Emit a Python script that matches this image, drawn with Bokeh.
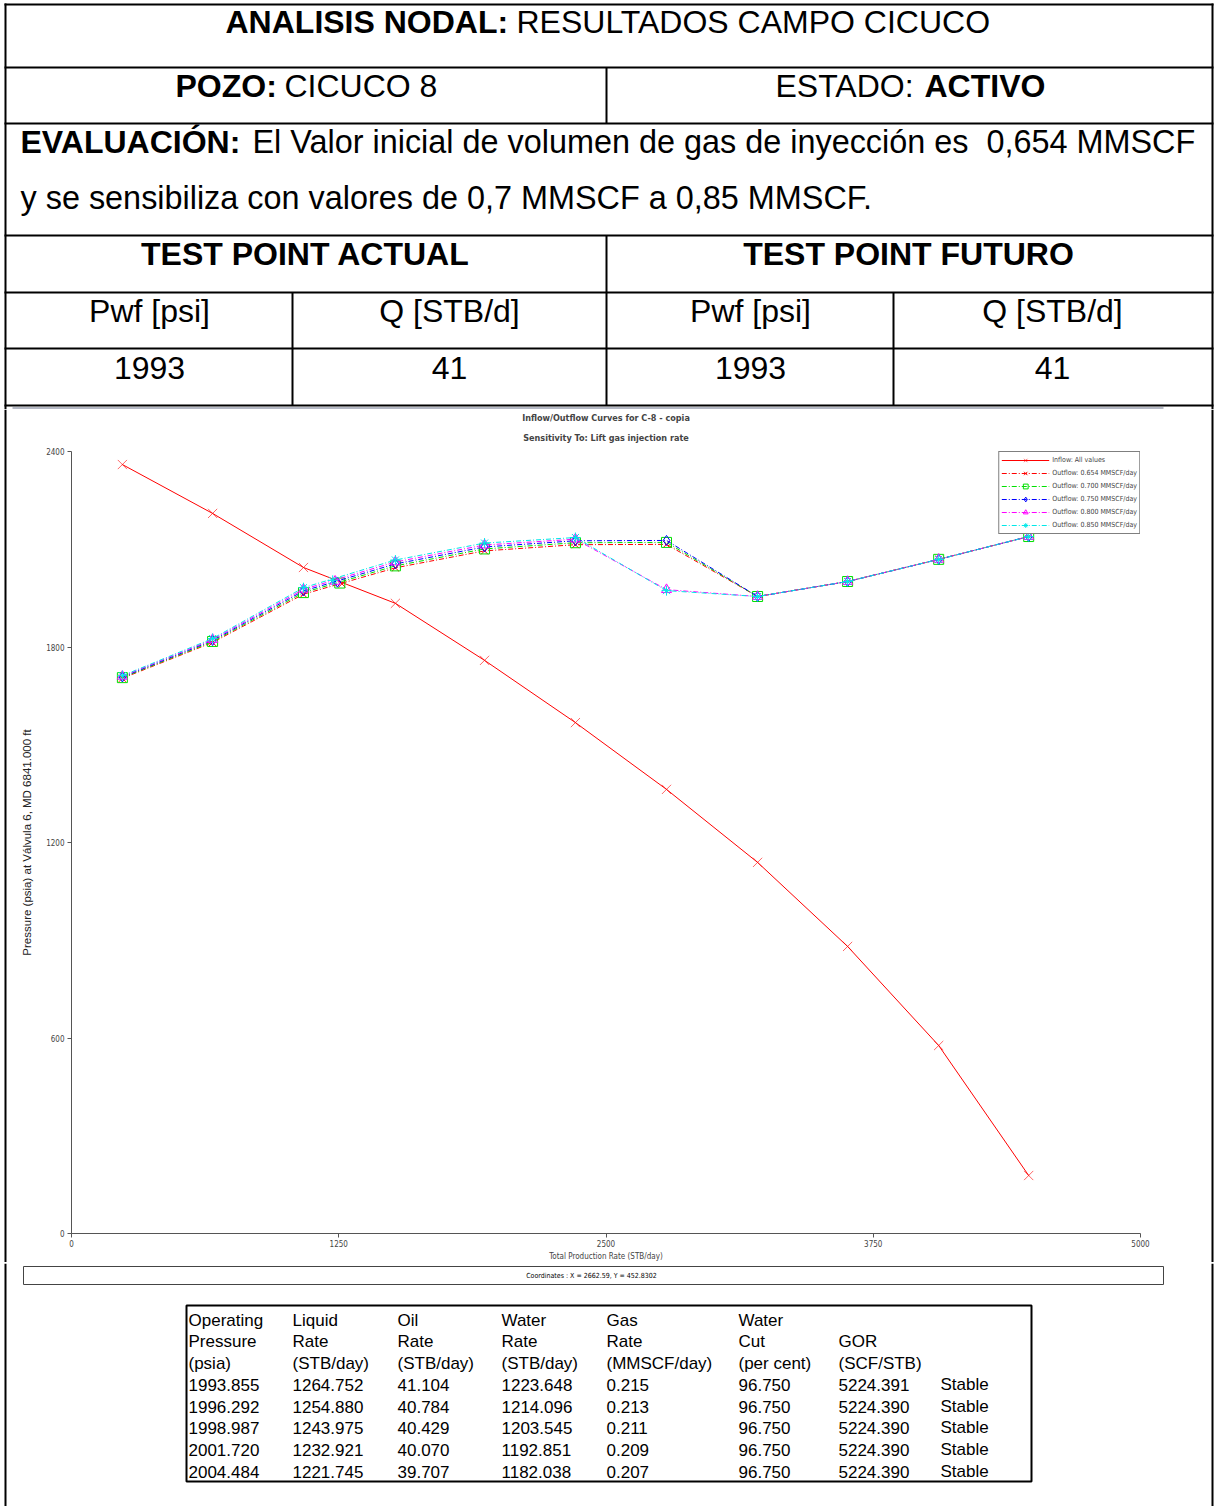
from bokeh.plotting import figure
from bokeh.layouts import column, row
from bokeh.models import Range1d, FixedTicker, Title
from bokeh.core.properties import value
from bokeh.embed import file_html
from bokeh.resources import INLINE

# ---------------- data ----------------
# Inflow / outflow curves (Total production rate STB/day vs pressure psia)
rate_grid = [238, 660, 1085, 1515, 1932, 2357, 2783, 3209, 3630, 4056, 4477]
inflow_p = [2360, 2210, 2044, 1934, 1759, 1568, 1363, 1139, 881, 577, 178]

gas_rates = ["0.654", "0.700", "0.750", "0.800", "0.850"]
outflow_0654 = [1704, 1814, 1962, 2043, 2095, 2114, 2115, 1955, 2001, 2069, 2139]
outflow_0700 = [1706, 1817, 1967, 2049, 2101, 2120, 2121, 1955, 2001, 2069, 2139]
outflow_0750 = [1708, 1820, 1972, 2055, 2107, 2126, 2127, 1955, 2001, 2069, 2139]
outflow_0800 = [1710, 1823, 1977, 2061, 2113, 2131, 1976, 1955, 2001, 2069, 2139]
outflow_0850 = [1712, 1826, 1982, 2067, 2119, 2136, 1973, 1955, 2001, 2069, 2139]

# Solution table
op_pressure = ["1993.855", "1996.292", "1998.987", "2001.720", "2004.484"]
liquid_rate = ["1264.752", "1254.880", "1243.975", "1232.921", "1221.745"]
oil_rate = ["41.104", "40.784", "40.429", "40.070", "39.707"]
water_rate = ["1223.648", "1214.096", "1203.545", "1192.851", "1182.038"]
gas_rate = ["0.215", "0.213", "0.211", "0.209", "0.207"]
water_cut = ["96.750", "96.750", "96.750", "96.750", "96.750"]
gor = ["5224.391", "5224.390", "5224.390", "5224.390", "5224.390"]
status = ["Stable", "Stable", "Stable", "Stable", "Stable"]
hdr1 = ["Operating", "Liquid", "Oil", "Water", "Gas", "Water", "", ""]
hdr2 = ["Pressure", "Rate", "Rate", "Rate", "Rate", "Cut", "GOR", ""]
hdr3 = ["(psia)", "(STB/day)", "(STB/day)", "(STB/day)", "(MMSCF/day)", "(per cent)", "(SCF/STB)", ""]

# Header table texts
tp_headers = ["Pwf [psi]", "Q [STB/d]", "Pwf [psi]", "Q [STB/d]"]
tp_values = ["1993", "41", "1993", "41"]

SANS = "Liberation Sans"
NARROW = "DejaVu Sans Condensed, Roboto"

# ---------------- top table ----------------
W = 1214
top = figure(width=W, height=409, x_range=Range1d(0, W), y_range=Range1d(409, 0),
             x_axis_type=None, y_axis_type=None, toolbar_location=None,
             output_backend="svg", min_border=0, outline_line_color=None)
top.grid.visible = False

def hline(p, x0, x1, y, w=2, c="black"):
    p.line([x0, x1], [y, y], line_color=c, line_width=w)

def vline(p, x, y0, y1, w=2, c="black"):
    p.line([x, x], [y0, y1], line_color=c, line_width=w)

hline(top, 4, 1213, 4)
for yy in [67, 123, 235, 292, 348, 405]:
    hline(top, 4, 1213, yy)
vline(top, 5, 3, 409)
vline(top, 1212, 3, 409)
vline(top, 606, 67, 123)
vline(top, 606, 235, 405)
vline(top, 292, 292, 405)
vline(top, 893, 292, 405)
hline(top, 12, 1163, 408, w=3, c="#b4b8c4")

FS = "32px"
def txt(p, x, y, t, bold=False, align="left", size=FS, font=SANS, color="black"):
    p.text(x=[x], y=[y], text=[t], text_font=value(font), text_font_size=size,
           text_font_style="bold" if bold else "normal", text_align=align,
           text_baseline="middle", text_color=color)

txt(top, 225, 21, "ANALISIS NODAL:", bold=True)
txt(top, 516, 21, "RESULTADOS CAMPO CICUCO")
txt(top, 175, 85, "POZO:", bold=True)
txt(top, 284, 85, "CICUCO 8")
txt(top, 775, 85, "ESTADO:")
txt(top, 924, 85, "ACTIVO", bold=True)
txt(top, 20, 141, "EVALUACIÓN:", bold=True)
txt(top, 252, 141, "El Valor inicial de volumen de gas de inyección es \u00a00,654 MMSCF", size="32.4px")
txt(top, 20, 197, "y se sensibiliza con valores de 0,7 MMSCF a 0,85 MMSCF.", size="32.4px")
txt(top, 305, 253, "TEST POINT ACTUAL", bold=True, align="center")
txt(top, 908, 253, "TEST POINT FUTURO", bold=True, align="center")
for cx, h, v in zip([149, 449, 750, 1052], tp_headers, tp_values):
    txt(top, cx, 310, h, align="center")
    txt(top, cx, 367, v, align="center")

# ---------------- chart ----------------
chart = figure(frame_width=1069, frame_height=782, x_range=Range1d(0, 5000), y_range=Range1d(0, 2400),
               toolbar_location=None, output_backend="svg",
               min_border_left=57, min_border_right=60, min_border_top=42, min_border_bottom=29,
               outline_line_color=None, title=None)
chart.frame_align = False
chart.grid.visible = False
chart.add_layout(Title(text="Sensitivity To: Lift gas injection rate", align="center",
                       text_font=NARROW, text_font_size="9px", text_font_style="bold",
                       standoff=17, offset=-12), "above")
chart.add_layout(Title(text="Inflow/Outflow Curves for C-8 - copia", align="center",
                       text_font=NARROW, text_font_size="9px", text_font_style="bold",
                       standoff=0, offset=-12), "above")

for ax in (chart.xaxis[0], chart.yaxis[0]):
    ax.axis_line_color = "#555555"
    ax.major_tick_line_color = "#555555"
    ax.minor_tick_line_color = None
    ax.major_tick_in = 0
    ax.major_tick_out = 4
    ax.major_label_text_font = NARROW
    ax.major_label_text_font_size = "8px"
    ax.major_label_text_color = "#444444"
chart.xaxis.ticker = FixedTicker(ticks=[0, 1250, 2500, 3750, 5000])
chart.yaxis.ticker = FixedTicker(ticks=[0, 600, 1200, 1800, 2400])
chart.xaxis.major_label_standoff = 2
chart.yaxis.major_label_standoff = 3
chart.xaxis.axis_label = "Total Production Rate (STB/day)"
chart.xaxis.axis_label_text_font = NARROW
chart.xaxis.axis_label_text_font_size = "8px"
chart.xaxis.axis_label_text_font_style = "normal"
chart.xaxis.axis_label_standoff = 2
chart.yaxis.axis_label = "Pressure (psia) at Válvula 6, MD 6841.000 ft"
chart.yaxis.axis_label_text_font = SANS
chart.yaxis.axis_label_text_font_size = "11.5px"
chart.yaxis.axis_label_text_font_style = "normal"
chart.yaxis.axis_label_text_color = "#222222"
chart.yaxis.axis_label_standoff = 10

chart.line(rate_grid, inflow_p, line_color="#ff0000", line_width=1, legend_label="Inflow: All values")
chart.scatter(rate_grid, inflow_p, marker="x", size=13, line_color="#ff0000", line_alpha=0.6,
              line_width=1, legend_label="Inflow: All values")

series = [outflow_0654, outflow_0700, outflow_0750, outflow_0800, outflow_0850]
colors = ["#ff0000", "#00e000", "#0000ff", "#ff00ff", "#00e8e8"]
markers = ["x", "square", "diamond", "triangle", "asterisk"]
for g, s, c, m, pr, lr in zip(gas_rates, series, colors, markers, op_pressure, liquid_rate):
    lab = "Outflow: %s MMSCF/day" % g
    chart.line(rate_grid, s, line_color=c, line_width=1, line_dash="5 2 1 2", legend_label=lab)
    chart.scatter(rate_grid, s, marker=m, size=10, line_color=c, fill_color=None,
                  line_width=1, legend_label=lab)
    chart.scatter([float(lr)], [float(pr)], marker=m, size=10, line_color=c, fill_color=None, line_width=1)

lg = chart.legend[0]
lg.location = "top_right"
lg.margin = 0
lg.padding = 2
lg.spacing = 1
lg.glyph_width = 48
lg.glyph_height = 12
lg.label_height = 12
lg.label_standoff = 3
lg.label_text_font = NARROW
lg.label_text_font_size = "7px"
lg.border_line_color = "black"
lg.border_line_width = 1
lg.background_fill_alpha = 1

def strip(xline):
    s = figure(width=14, height=853, x_range=Range1d(0, 14), y_range=Range1d(0, 1),
               x_axis_type=None, y_axis_type=None, toolbar_location=None,
               output_backend="svg", min_border=0, outline_line_color=None)
    s.frame_align = False
    s.grid.visible = False
    s.line([xline, xline], [0, 1], line_color="black", line_width=2)
    return s

mid = row(strip(5), chart, strip(12))

# ---------------- bottom ----------------
bot = figure(width=W, height=244, x_range=Range1d(0, W), y_range=Range1d(1506, 1262),
             x_axis_type=None, y_axis_type=None, toolbar_location=None,
             output_backend="svg", min_border=0, outline_line_color=None)
bot.grid.visible = False
vline(bot, 5, 1262, 1506)
vline(bot, 1212, 1262, 1506)
bot.quad(left=[23], right=[1163], top=[1265], bottom=[1283], fill_color=None,
         line_color="#444444", line_width=1)
txt(bot, 593, 1274, "Coordinates :  X = 2662.59,  Y = 452.8302", align="center",
    size="7px", font=NARROW)
bot.quad(left=[186], right=[1031], top=[1304], bottom=[1480], fill_color=None,
         line_color="black", line_width=2)

col_x = [188, 292, 397, 501, 606, 738, 838, 940]
row_y = [1319, 1340, 1362, 1383, 1405, 1426, 1448, 1470]
TFS = "17px"
for hdr, yy in zip([hdr1, hdr2, hdr3], row_y[:3]):
    for cx, t in zip(col_x, hdr):
        if t:
            txt(bot, cx, yy, t, size=TFS)
cols = [op_pressure, liquid_rate, oil_rate, water_rate, gas_rate, water_cut, gor, status]
for cx, colvals in zip(col_x, cols):
    for yy, t in zip(row_y[3:], colvals):
        txt(bot, cx, yy, t, size=TFS)

layout = column(top, mid, bot)
open("out.html", "w").write(file_html(layout, INLINE))
